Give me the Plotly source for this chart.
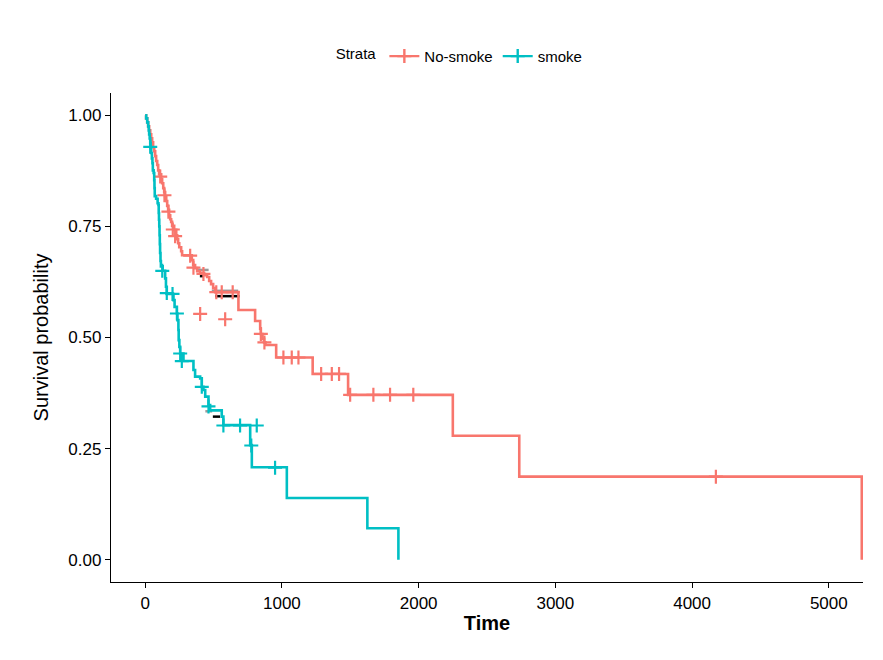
import plotly.graph_objects as go

# ---------------- data ----------------
nosmoke_time = [0, 7, 15, 22, 29, 37, 44, 51, 58, 66, 73, 80, 88, 95, 102, 117, 124, 132, 139, 146,
                154, 161, 168, 175, 183, 190, 197, 212, 227, 234, 241, 249, 263, 270, 341, 351, 365,
                380, 402, 431, 453, 468, 482, 497, 512, 682, 804, 841, 846, 858, 870, 880, 958,
                1225, 1484, 2250, 2736, 5241]
nosmoke_surv = [1.0, 0.993, 0.984, 0.975, 0.966, 0.957, 0.948, 0.939, 0.928, 0.919, 0.908, 0.897,
                0.888, 0.876, 0.867, 0.856, 0.847, 0.836, 0.827, 0.816, 0.807, 0.796, 0.787, 0.775,
                0.766, 0.760, 0.751, 0.742, 0.730, 0.721, 0.712, 0.703, 0.694, 0.685, 0.674, 0.663,
                0.656, 0.649, 0.645, 0.640, 0.636, 0.627, 0.620, 0.611, 0.602, 0.562, 0.537, 0.520,
                0.508, 0.497, 0.489, 0.483, 0.455, 0.418, 0.371, 0.279, 0.187, 0.0]
nosmoke_cens_time = [110, 141, 170, 202, 219, 329, 353, 426, 520, 560, 640, 846, 872, 1011, 1072,
                     1121, 1287, 1365, 1418, 1499, 1669, 1791, 1961, 4174, 402, 585]
nosmoke_cens_surv = [0.862, 0.820, 0.783, 0.743, 0.728, 0.684, 0.657, 0.643, 0.602, 0.602, 0.602,
                     0.508, 0.489, 0.455, 0.455, 0.455, 0.418, 0.418, 0.418, 0.371, 0.371, 0.371,
                     0.371, 0.187, 0.553, 0.541]

smoke_time = [0, 7, 15, 22, 26, 29, 33, 37, 40, 44, 49, 53, 56, 62, 66, 68, 70, 80, 91, 97, 99, 101,
              103, 105, 107, 109, 112, 115, 128, 146, 152, 158, 207, 215, 232, 236, 243, 245, 250,
              256, 280, 353, 365, 402, 414, 426, 439, 463, 475, 560, 572, 768, 780, 1036, 1625, 1852]
smoke_surv = [1.0, 0.993, 0.984, 0.975, 0.966, 0.957, 0.948, 0.937, 0.926, 0.915, 0.903, 0.892,
              0.876, 0.870, 0.854, 0.836, 0.818, 0.812, 0.802, 0.798, 0.780, 0.765, 0.750, 0.730,
              0.710, 0.690, 0.672, 0.660, 0.650, 0.633, 0.614, 0.598, 0.584, 0.569, 0.554, 0.539,
              0.517, 0.494, 0.479, 0.464, 0.447, 0.427, 0.412, 0.408, 0.389, 0.382, 0.367, 0.348,
              0.336, 0.322, 0.303, 0.258, 0.208, 0.139, 0.071, 0.0]
smoke_cens_time = [37, 125, 158, 200, 232, 256, 268, 414, 463, 572, 694, 816, 776, 950]
smoke_cens_surv = [0.929, 0.650, 0.600, 0.598, 0.554, 0.464, 0.447, 0.389, 0.345, 0.302, 0.302,
                   0.302, 0.257, 0.207]

# small dark overlay segments visible under the curves
grey_time = [378, 464, None, 487, 680, None, 440, 490]
grey_surv = [0.652, 0.652, None, 0.605, 0.605, None, 0.334, 0.334]
black_time = [400, 425, None, 512, 690, None, 495, 548]
black_surv = [0.638, 0.638, None, 0.593, 0.593, None, 0.322, 0.322]

strata = ["No-smoke", "smoke"]
colors = ["#F8766D", "#00BFC4"]
x_ticks = [0, 1000, 2000, 3000, 4000, 5000]
y_ticks = [0, 0.25, 0.5, 0.75, 1.0]

# ---------------- figure ----------------
fig = go.Figure()

fig.add_trace(go.Scatter(x=grey_time, y=grey_surv, mode="lines", line=dict(color="#999999", width=2.5),
                         showlegend=False, hoverinfo="skip"))
fig.add_trace(go.Scatter(x=black_time, y=black_surv, mode="lines", line=dict(color="black", width=2.5),
                         showlegend=False, hoverinfo="skip"))

series = [
    (nosmoke_time, nosmoke_surv, nosmoke_cens_time, nosmoke_cens_surv),
    (smoke_time, smoke_surv, smoke_cens_time, smoke_cens_surv),
]
for name, col, (t, s, ct, cs) in zip(strata, colors, series):
    fig.add_trace(go.Scatter(x=t, y=s, mode="lines", line=dict(color=col, width=2.6, shape="hv"),
                             showlegend=False, name=name))
    fig.add_trace(go.Scatter(x=ct, y=cs, mode="markers", showlegend=False, name=name,
                             marker=dict(symbol="cross-thin", size=10,
                                         line=dict(color=col, width=2.2))))
    # legend entry
    fig.add_trace(go.Scatter(x=[None], y=[None], mode="lines+markers", name=name,
                             line=dict(color=col, width=2.2),
                             marker=dict(symbol="cross-thin", size=10,
                                         line=dict(color=col, width=2.4))))

axis_font = dict(family="Liberation Sans, Arial, sans-serif", size=17, color="black")

fig.update_layout(
    width=883, height=660,
    margin=dict(l=111, r=20, t=93, b=78),
    paper_bgcolor="white", plot_bgcolor="white",
    font=dict(family="Liberation Sans, Arial, sans-serif", color="black"),
    legend=dict(orientation="h", x=0.465, xanchor="center", y=1.075, yanchor="middle",
                title=dict(text="Strata", side="left",
                           font=dict(size=15, family="Liberation Sans, Arial, sans-serif")),
                font=dict(size=15, family="Liberation Sans, Arial, sans-serif"),
                itemwidth=30, tracegroupgap=0),
    xaxis=dict(range=[-250, 5250], tickvals=x_ticks, ticks="outside", ticklen=5, tickwidth=1.2,
               tickcolor="black", showline=True, linecolor="black", linewidth=1.3,
               showgrid=False, zeroline=False, tickfont=axis_font,
               title=dict(text="<b>Time</b>", font=dict(size=20, family="Liberation Sans, Arial, sans-serif"),
                          standoff=4)),
    yaxis=dict(range=[-0.05, 1.05], tickvals=y_ticks, tickformat=".2f", ticks="outside", ticklen=5,
               tickwidth=1.2, tickcolor="black", showline=True, linecolor="black", linewidth=1.3,
               showgrid=False, zeroline=False, tickfont=axis_font,
               title=dict(text="Survival probability",
                          font=dict(size=20, family="Liberation Sans Narrow, Liberation Sans, Arial, sans-serif"),
                          standoff=14)),
)

fig.write_html("out.html")
